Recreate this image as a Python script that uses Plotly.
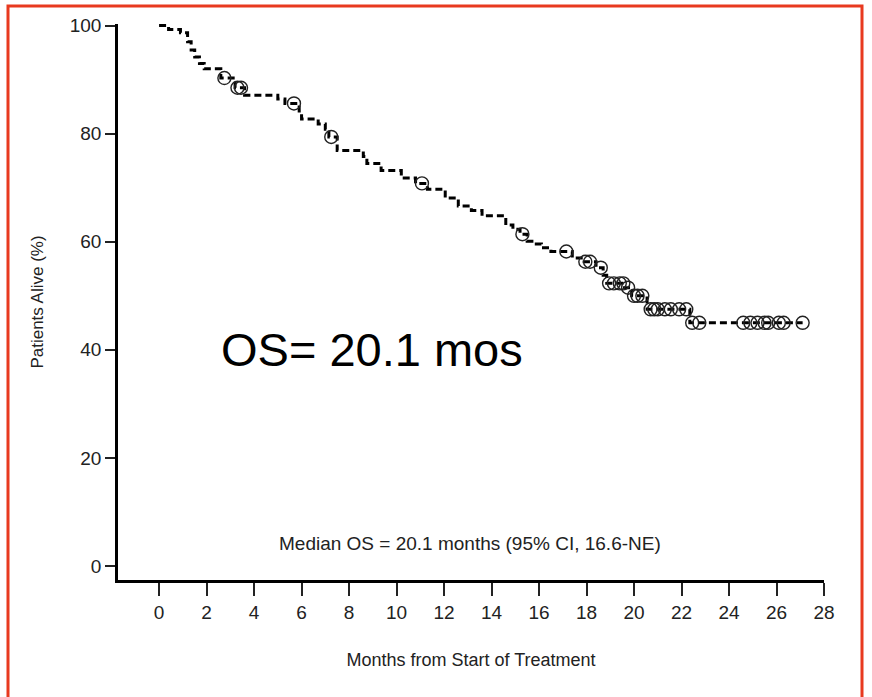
import plotly.graph_objects as go
import numpy as np

# Kaplan-Meier step data: time (months) at which survival drops, and survival (%) after the drop
step_t = [0, 0.4, 0.9, 1.2, 1.35, 1.5, 1.7, 1.9, 2.6, 3.2, 3.6, 5.0, 5.3, 5.9, 6.0, 6.7,
          7.0, 7.15, 7.5, 8.6, 8.75, 9.35, 10.2, 10.8, 11.3, 12.05, 12.6, 13.15, 13.6,
          14.6, 14.9, 15.2, 15.5, 15.7, 16.1, 16.5, 17.4, 17.9, 18.4, 18.7, 18.85, 19.6,
          19.9, 20.55, 22.35]
step_s = [100, 99.3, 98.7, 97.0, 95.5, 94.2, 93.0, 92.0, 90.3, 88.5, 87.1, 86.4, 85.6, 84.2, 82.7, 81.8,
          80.8, 79.4, 76.9, 75.8, 74.5, 73.2, 71.8, 70.8, 69.7, 68.1, 66.6, 65.8, 64.8,
          63.1, 62.3, 61.4, 60.1, 59.6, 58.9, 58.2, 57.0, 56.3, 55.2, 53.8, 52.3, 51.5,
          50.0, 47.5, 45.0]

# Censored observations (months)
cens_t = [2.75, 3.3, 3.45, 5.68, 7.25, 11.07, 15.3, 17.15, 17.95, 18.15, 18.6,
          18.95, 19.15, 19.4, 19.55, 19.75, 20.0, 20.15, 20.35, 20.7, 20.85, 21.0,
          21.3, 21.55, 21.9, 22.2, 22.45, 22.75, 24.6, 24.9, 25.2, 25.5, 25.65,
          26.1, 26.3, 27.1]

x_ticks = list(range(0, 29, 2))
y_ticks = [0, 20, 40, 60, 80, 100]


def surv_at(t):
    idx = np.searchsorted(step_t, t, side="right") - 1
    return step_s[max(idx, 0)]


line_x = step_t + [cens_t[-1]]
line_y = step_s + [step_s[-1]]
cens_s = [surv_at(t) for t in cens_t]

font = "Liberation Sans, Arial, sans-serif"
txt = "#222"

fig = go.Figure()
fig.add_trace(go.Scatter(
    x=line_x, y=line_y, mode="lines", line_shape="hv",
    line=dict(color="black", width=3, dash="7px,4px"),
    hoverinfo="skip", showlegend=False))
fig.add_trace(go.Scatter(
    x=cens_t, y=cens_s, mode="markers",
    marker=dict(symbol="circle-open", size=13, color="#222",
                line=dict(width=1.4, color="#222")),
    showlegend=False, cliponaxis=False))

fig.add_annotation(x=0.36, y=0.414, xref="paper", yref="paper", yanchor="middle",
                   text="OS= 20.1 mos", showarrow=False,
                   font=dict(family=font, size=47, color="black"))
fig.add_annotation(x=0.498, y=0.066, xref="paper", yref="paper", yanchor="middle",
                   text="Median OS = 20.1 months (95% CI, 16.6-NE)", showarrow=False,
                   font=dict(family=font, size=19, color=txt))

# red frame
W, H = 872, 697
l, r, t, b = 118, 48, 24, 117
pw, ph = W - l - r, H - t - b
def px(xp):
    return (xp - l) / pw
def py(yp):
    return (H - b - yp) / ph
fig.add_shape(type="rect", xref="paper", yref="paper",
              x0=px(8), x1=px(862), y0=py(705), y1=py(6),
              line=dict(color="#e8391f", width=3), layer="below")

fig.update_layout(
    width=W, height=H,
    margin=dict(l=l, r=r, t=t, b=b),
    plot_bgcolor="white", paper_bgcolor="white",
    xaxis=dict(range=[-1.73, 28], tickvals=x_ticks, showgrid=False, zeroline=False,
               showline=True, linecolor="black", linewidth=2.5,
               ticks="outside", ticklen=13, tickwidth=2, tickcolor="#222",
               tickfont=dict(family=font, size=19, color=txt),
               title=dict(text="Months from Start of Treatment", standoff=32,
                          font=dict(family=font, size=18, color=txt))),
    yaxis=dict(range=[-2.6, 100.3], tickvals=y_ticks, showgrid=False, zeroline=False,
               showline=True, linecolor="black", linewidth=2.5,
               ticks="outside", ticklen=10, tickwidth=2, tickcolor="#222",
               tickfont=dict(family=font, size=19, color=txt),
               title=dict(text="Patients Alive (%)", standoff=22,
                          font=dict(family=font, size=17, color=txt))),
)

fig.write_html("out.html")
